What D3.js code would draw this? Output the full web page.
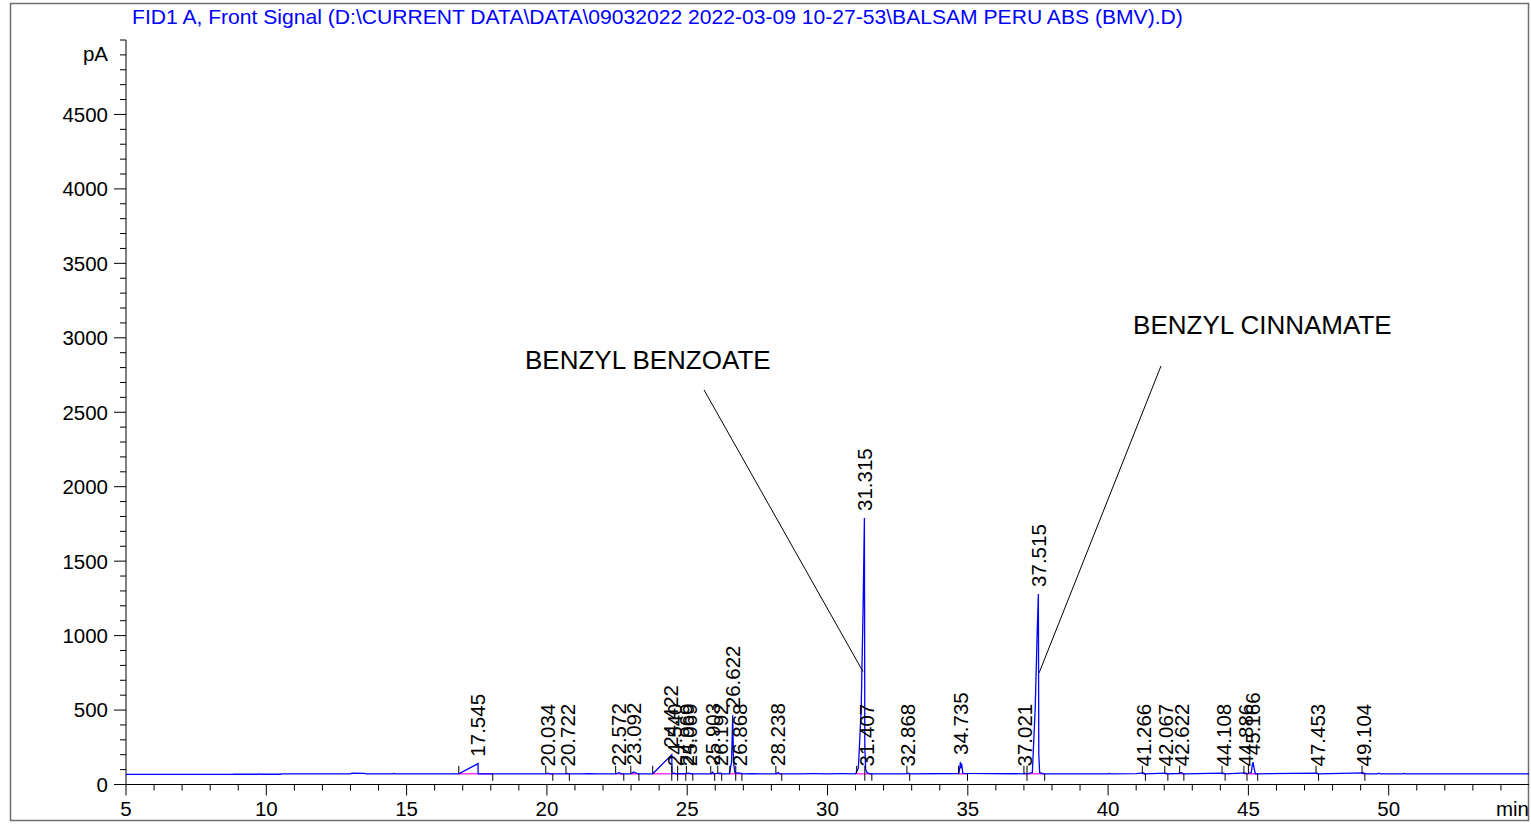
<!DOCTYPE html>
<html>
<head>
<meta charset="utf-8">
<script src="https://cdn.jsdelivr.net/npm/d3@7"></script>
<style>
  html, body { margin: 0; padding: 0; background: #fff; }
  svg { display: block; font-family: "Liberation Sans", Arial, sans-serif; }
</style>
</head>
<body>
<svg id="chart" width="1531" height="825"></svg>
<script>
// ---------------- DATA ----------------
const titleText = "FID1 A, Front Signal (D:\\CURRENT DATA\\DATA\\09032022 2022-03-09 10-27-53\\BALSAM PERU ABS (BMV).D)";
const xDomain = [5, 55];
const yDomain = [0, 5000];
const xMajorTicks = [5, 10, 15, 20, 25, 30, 35, 40, 45, 50];
const yMajorTicks = [0, 500, 1000, 1500, 2000, 2500, 3000, 3500, 4000, 4500];
const xUnit = "min";
const yUnit = "pA";

// chromatogram trace (time in min, signal in pA)
const signalTime = [5.0, 8.8, 8.85, 9.0, 9.7, 9.75, 9.8, 10.5, 10.55, 13.0, 13.05, 13.5, 13.55, 14.5, 14.55, 14.6,
  16.86, 17.545, 17.55, 19.96, 20.034, 20.1, 20.68, 20.722, 20.8, 21.2, 21.5, 21.8, 22.0, 22.45, 22.572, 22.65,
  22.99, 23.092, 23.2, 23.3, 23.77, 24.45, 24.46, 24.54, 24.6, 24.969, 25.069, 25.15, 25.85, 25.903, 25.95, 26.192,
  26.25, 26.5, 26.58, 26.622, 26.65, 26.7, 26.868, 27.0, 27.3, 27.6, 28.0, 28.16, 28.238, 28.3, 29.0, 29.5, 30.0,
  30.5, 31.0, 31.1, 31.2, 31.27, 31.315, 31.33, 31.36, 31.407, 31.5, 32.8, 32.868, 32.95, 34.68, 34.72, 34.735,
  34.75, 34.78, 34.82, 37.0, 37.021, 37.1, 37.3, 37.4, 37.47, 37.515, 37.53, 37.56, 37.7, 40.0, 40.05, 40.1, 41.0,
  41.266, 41.3, 42.067, 42.1, 42.5, 42.622, 42.7, 44.108, 44.2, 44.886, 44.95, 45.1, 45.14, 45.166, 45.2, 45.25,
  47.453, 47.5, 49.104, 49.2, 49.6, 49.65, 49.7, 50.5, 50.55, 50.6, 55.0];
const signalPA = [68, 68, 70, 69, 69, 71, 69, 69, 71, 71, 76, 75, 72, 72, 74, 72,
  72, 140, 72, 72, 76, 72, 72, 75, 72, 71, 73, 71, 72, 72, 80, 72,
  72, 84, 74, 72, 72, 200, 74, 76, 72, 74, 76, 72, 72, 82, 72, 76,
  72, 72, 150, 465, 150, 80, 76, 72, 73, 71, 72, 72, 80, 72, 72, 73, 72,
  73, 72, 110, 500, 1200, 1790, 250, 100, 80, 72, 72, 76, 72, 74, 120, 151,
  110, 140, 75, 72, 76, 72, 80, 500, 1000, 1280, 200, 80, 72, 72, 75, 72, 73,
  78, 72, 76, 72, 74, 80, 72, 76, 72, 78, 72, 80, 130, 150, 110, 72,
  76, 72, 78, 72, 72, 76, 72, 72, 75, 72, 72];

// integrated peaks
const peakRT = [17.545, 20.034, 20.722, 22.572, 23.092, 24.422, 24.540, 24.969, 25.069, 25.903, 26.192, 26.622, 26.868,
  28.238, 31.315, 31.407, 32.868, 34.735, 37.021, 37.515, 41.266, 42.067, 42.622, 44.108, 44.886, 45.166, 47.453, 49.104];
const peakStart = [16.86, 19.96, 20.68, 22.45, 22.99, 23.77, 24.45, 24.66, 24.97, 25.84, 26.09, 26.52, 26.73,
  28.16, 31.04, 31.33, 32.83, 34.67, 37.00, 37.11, 41.22, 42.02, 42.55, 44.06, 44.84, 45.00, 47.41, 49.05];
const peakEnd = [18.07, 20.21, 20.80, 22.74, 23.28, 24.45, 24.66, 24.95, 25.20, 25.98, 26.23, 26.73, 26.95,
  28.37, 31.33, 31.58, 32.93, 34.99, 37.11, 37.74, 41.33, 42.13, 42.70, 44.17, 44.95, 45.33, 47.50, 49.15];
const peakLabelPA = [140, 74, 74, 78, 82, 200, 76, 76, 76, 80, 76, 465, 76,
  78, 1790, 74, 74, 151, 74, 1280, 74, 74, 76, 74, 74, 150, 74, 74];
const baselinePA = 72;

// annotations
const annotText = ["BENZYL BENZOATE", "BENZYL CINNAMATE"];
const annotTextT = [19.22, 40.89];
const annotTextPA = [2790, 3026];
const annotFromT = [25.60, 41.885];
const annotFromPA = [2650, 2811];
const annotToT = [31.265, 37.54];
const annotToPA = [758, 749];

// ---------------- DRAW ----------------
const svg = d3.select("#chart");
const x = d3.scaleLinear().domain(xDomain).range([126, 1529]);
const y = d3.scaleLinear().domain(yDomain).range([784.5, 40]);

// frame
svg.append("rect").attr("x", 10.5).attr("y", 3.5).attr("width", 1518).attr("height", 817)
  .attr("fill", "none").attr("stroke", "#6e6e6e").attr("stroke-width", 1.5);

// title
svg.append("text").attr("x", 132).attr("y", 24).attr("fill", "#0000ff")
  .attr("font-size", 21.1).text(titleText);

// clip
svg.append("clipPath").attr("id", "plotclip").append("rect")
  .attr("x", 126).attr("y", 30).attr("width", 1403).attr("height", 760);

// Y axis
const gy = svg.append("g").attr("stroke", "#000").attr("stroke-width", 1);
gy.append("line").attr("x1", 126).attr("x2", 126).attr("y1", y(0)).attr("y2", y(5000));
d3.range(0, 5001, 100).forEach(v => {
  const major = yMajorTicks.includes(v);
  gy.append("line").attr("x1", major ? 114 : 120).attr("x2", 126).attr("y1", y(v)).attr("y2", y(v));
});
svg.append("g").selectAll("text").data(yMajorTicks).join("text")
  .attr("x", 108).attr("y", d => y(d)).attr("dy", "0.36em").attr("text-anchor", "end")
  .attr("font-size", 20.5).attr("fill", "#000").text(d => d);
svg.append("text").attr("x", 108).attr("y", y(4910)).attr("dy", "0.36em").attr("text-anchor", "end")
  .attr("font-size", 20.5).attr("fill", "#000").text(yUnit);

// X axis
const gx = svg.append("g").attr("stroke", "#000").attr("stroke-width", 1);
gx.append("line").attr("x1", x(5)).attr("x2", x(55)).attr("y1", y(0)).attr("y2", y(0));
d3.range(5, 55, 1).forEach(v => {
  const major = xMajorTicks.includes(v);
  gx.append("line").attr("x1", x(v)).attr("x2", x(v)).attr("y1", y(0)).attr("y2", y(0) + (major ? 11 : 6));
});
svg.append("g").selectAll("text").data(xMajorTicks).join("text")
  .attr("x", d => x(d)).attr("y", 816).attr("text-anchor", "middle")
  .attr("font-size", 20.5).attr("fill", "#000").text(d => d);
svg.append("text").attr("x", 1529).attr("y", 816).attr("text-anchor", "end")
  .attr("font-size", 20.5).attr("fill", "#000").text(xUnit);

const plot = svg.append("g").attr("clip-path", "url(#plotclip)");

// integration baselines (magenta)
plot.append("g").selectAll("line").data(peakRT).join("line")
  .attr("x1", (d, i) => x(peakStart[i])).attr("x2", (d, i) => x(peakEnd[i]))
  .attr("y1", y(baselinePA)).attr("y2", y(baselinePA))
  .attr("stroke", "#ff33ff").attr("stroke-width", 1.5);

// signal
const pts = signalTime.map((t, i) => [t, signalPA[i]]);
plot.append("path").datum(pts)
  .attr("d", d3.line().x(d => x(d[0])).y(d => y(d[1])))
  .attr("fill", "none").attr("stroke", "#0000ff").attr("stroke-width", 1.3);

// start / end ticks
const tk = plot.append("g").attr("stroke", "#000").attr("stroke-width", 1);
peakRT.forEach((d, i) => {
  tk.append("line").attr("x1", x(peakStart[i])).attr("x2", x(peakStart[i]))
    .attr("y1", y(baselinePA) - 8).attr("y2", y(baselinePA));
  tk.append("line").attr("x1", x(peakEnd[i])).attr("x2", x(peakEnd[i]))
    .attr("y1", y(baselinePA)).attr("y2", y(baselinePA) + 7);
});

// peak labels
svg.append("g").selectAll("text").data(peakRT).join("text")
  .attr("transform", (d, i) => `translate(${x(d)},${y(peakLabelPA[i]) - 7}) rotate(-90)`)
  .attr("dy", "0.36em").attr("font-size", 20.5).attr("fill", "#000")
  .text(d => d.toFixed(3));

// annotations
annotText.forEach((s, i) => {
  svg.append("text").attr("x", x(annotTextT[i])).attr("y", y(annotTextPA[i]))
    .attr("font-size", 26).attr("fill", "#000").text(s);
  svg.append("line").attr("x1", x(annotFromT[i])).attr("y1", y(annotFromPA[i]))
    .attr("x2", x(annotToT[i])).attr("y2", y(annotToPA[i]))
    .attr("stroke", "#000").attr("stroke-width", 1);
});
</script>
</body>
</html>
